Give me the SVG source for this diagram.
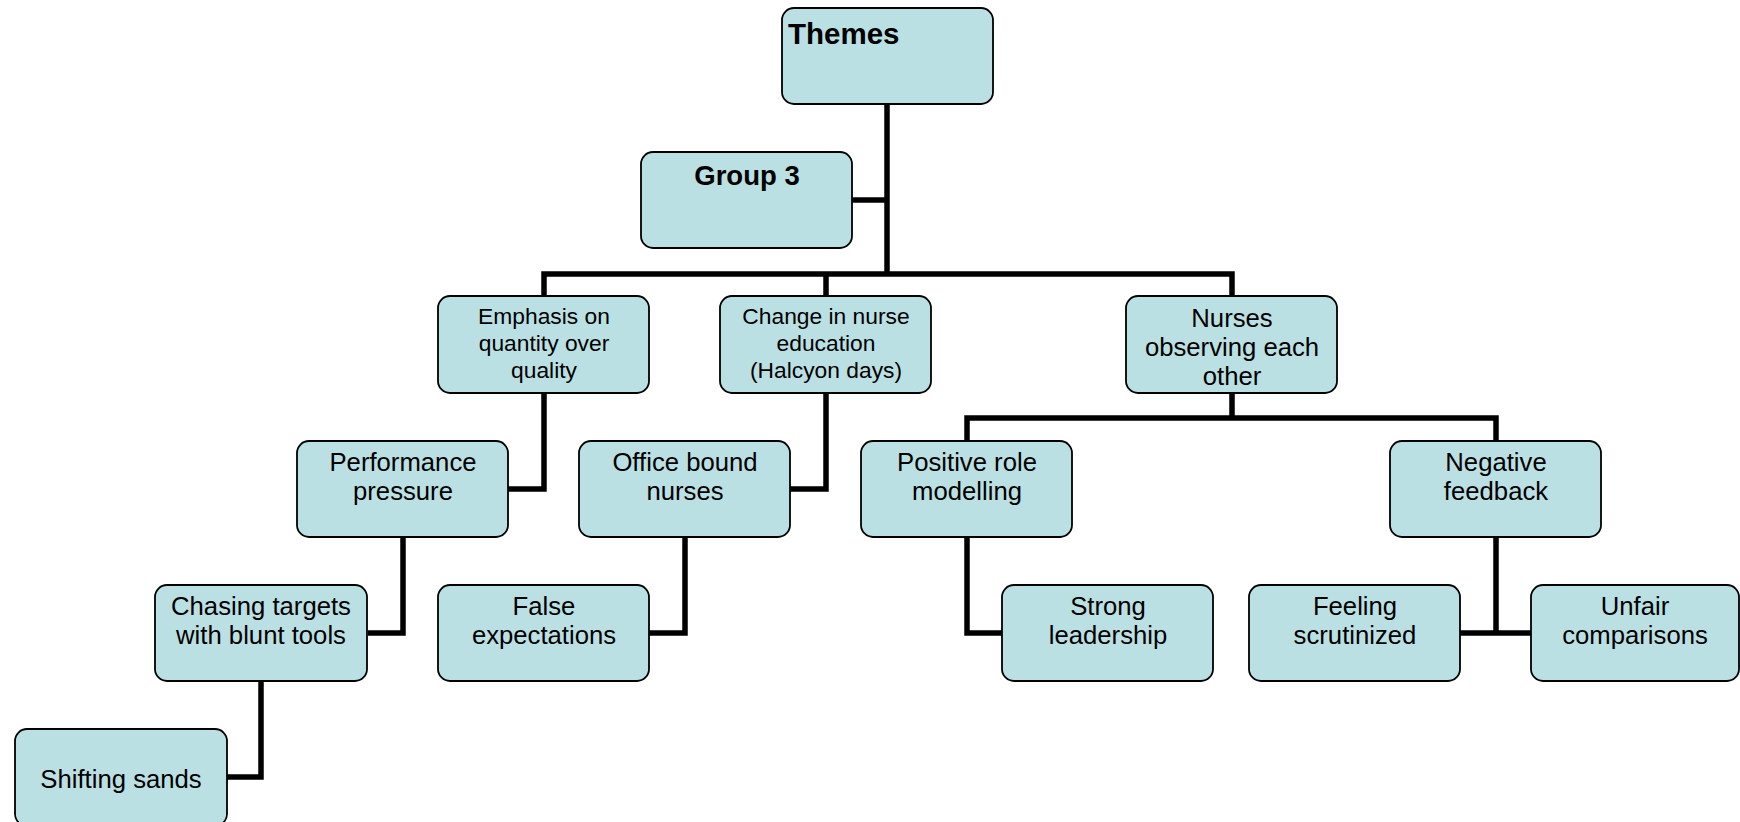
<svg xmlns="http://www.w3.org/2000/svg" width="1740" height="822" viewBox="0 0 1740 822">
<style>
.box{fill:#BBE0E3;stroke:#000;stroke-width:1.8}
.t{font-family:"Liberation Sans",Arial,sans-serif;font-size:25.7px;fill:#000;text-anchor:middle}
.s{font-size:22.8px}
.b{font-weight:bold}
.c{fill:none;stroke:#000;stroke-width:5.5;stroke-linejoin:miter;stroke-linecap:butt}
</style>
<rect width="1740" height="822" fill="#fff"/>
<g id="connectors" class="c">
<path d="M887 104V274M852 200H887"/>
<path d="M544 296V274H1232V296M826 274V296"/>
<path d="M544 393V489H508"/>
<path d="M826 393V489H790"/>
<path d="M1232 393V418M967 441V418H1496V441"/>
<path d="M403 537V633H368"/>
<path d="M685 537V633H649"/>
<path d="M967 537V633H1002"/>
<path d="M1496 537V633M1460 633H1531"/>
<path d="M261 681V777H227"/>
</g>
<g id="themes"><rect class="box" x="782" y="8" width="211" height="96" rx="12"/><text class="t b" x="788" y="44" style="text-anchor:start;font-size:29.5px">Themes</text></g>
<g id="group3"><rect class="box" x="641" y="152" width="211" height="96" rx="12"/><text class="t b" x="747" y="185" style="font-size:27.5px">Group 3</text></g>
<g id="emphasis"><rect class="box" x="438" y="296" width="211" height="97" rx="12"/><text class="t s" x="544" y="324">Emphasis on</text><text class="t s" x="544" y="351">quantity over</text><text class="t s" x="544" y="378">quality</text></g>
<g id="change"><rect class="box" x="720" y="296" width="211" height="97" rx="12"/><text class="t s" x="826" y="324">Change in nurse</text><text class="t s" x="826" y="351">education</text><text class="t s" x="826" y="378">(Halcyon days)</text></g>
<g id="nurses"><rect class="box" x="1126" y="296" width="211" height="97" rx="12"/><text class="t" x="1232" y="327">Nurses</text><text class="t" x="1232" y="356">observing each</text><text class="t" x="1232" y="385">other</text></g>
<g id="performance"><rect class="box" x="297" y="441" width="211" height="96" rx="12"/><text class="t" x="403" y="471">Performance</text><text class="t" x="403" y="500">pressure</text></g>
<g id="office"><rect class="box" x="579" y="441" width="211" height="96" rx="12"/><text class="t" x="685" y="471">Office bound</text><text class="t" x="685" y="500">nurses</text></g>
<g id="positive"><rect class="box" x="861" y="441" width="211" height="96" rx="12"/><text class="t" x="967" y="471">Positive role</text><text class="t" x="967" y="500">modelling</text></g>
<g id="negative"><rect class="box" x="1390" y="441" width="211" height="96" rx="12"/><text class="t" x="1496" y="471">Negative</text><text class="t" x="1496" y="500">feedback</text></g>
<g id="chasing"><rect class="box" x="155" y="585" width="212" height="96" rx="12"/><text class="t" x="261" y="615">Chasing targets</text><text class="t" x="261" y="644">with blunt tools</text></g>
<g id="false"><rect class="box" x="438" y="585" width="211" height="96" rx="12"/><text class="t" x="544" y="615">False</text><text class="t" x="544" y="644">expectations</text></g>
<g id="strong"><rect class="box" x="1002" y="585" width="211" height="96" rx="12"/><text class="t" x="1108" y="615">Strong</text><text class="t" x="1108" y="644">leadership</text></g>
<g id="feeling"><rect class="box" x="1249" y="585" width="211" height="96" rx="12"/><text class="t" x="1355" y="615">Feeling</text><text class="t" x="1355" y="644">scrutinized</text></g>
<g id="unfair"><rect class="box" x="1531" y="585" width="208" height="96" rx="12"/><text class="t" x="1635" y="615">Unfair</text><text class="t" x="1635" y="644">comparisons</text></g>
<g id="shifting"><rect class="box" x="15" y="729" width="212" height="97" rx="12"/><text class="t" x="121" y="788">Shifting sands</text></g>
</svg>
